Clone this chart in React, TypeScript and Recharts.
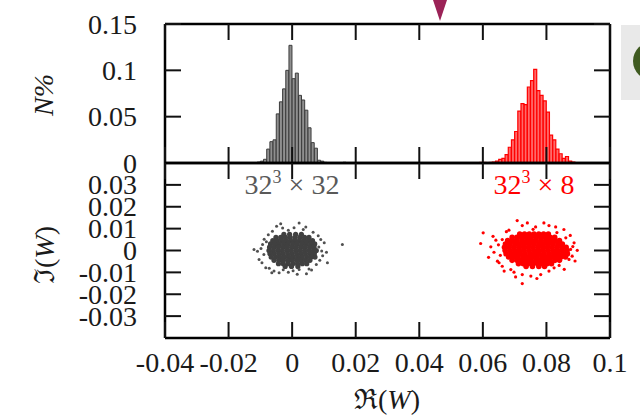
import React from "react";
import { ComposedChart, Bar, ScatterChart, Scatter, XAxis, YAxis } from "recharts";

const FONT = '"Liberation Serif", "DejaVu Serif", serif';

// shared horizontal axis
const xTicks = [-0.04, -0.02, 0, 0.02, 0.04, 0.06, 0.08, 0.1];
const xTickLabels = ["-0.04", "-0.02", "0", "0.02", "0.04", "0.06", "0.08", "0.1"];

// top panel: N%
const histTicks = [0, 0.05, 0.1, 0.15];
const histTickLabels = ["0", "0.05", "0.1", "0.15"];

// bottom panel: Im(W)
const imTicks = [-0.03, -0.02, -0.01, 0, 0.01, 0.02, 0.03];
const imTickLabels = ["-0.03", "-0.02", "-0.01", "0", "0.01", "0.02", "0.03"];

// histogram bins (centres, width 0.001)
const grayBins = [
  -0.0105, -0.0095, -0.0085, -0.0075, -0.0065, -0.0055, -0.0045, -0.0035, -0.0025, -0.0015, -0.0005,
  0.0005, 0.0015, 0.0025, 0.0035, 0.0045, 0.0055, 0.0065, 0.0075, 0.0085, 0.0095, 0.0105, 0.0165,
];
const grayHeights = [
  0.001, 0.002, 0.004, 0.015, 0.023, 0.025, 0.053, 0.066, 0.08, 0.1, 0.127,
  0.091, 0.097, 0.073, 0.068, 0.057, 0.038, 0.022, 0.016, 0.003, 0.002, 0.0007, 0.0008,
];
const redBins = [
  0.0595, 0.0605, 0.0625, 0.0635, 0.0645, 0.0655, 0.0665, 0.0675, 0.0685, 0.0695, 0.0705, 0.0715,
  0.0725, 0.0735, 0.0745, 0.0755, 0.0765, 0.0775, 0.0785, 0.0795, 0.0805, 0.0815, 0.0825, 0.0835,
  0.0845, 0.0855, 0.0865, 0.0875, 0.0885,
];
const redHeights = [
  0.0006, 0.0006, 0.0006, 0.001, 0.002, 0.004, 0.005, 0.009, 0.017, 0.025, 0.034, 0.056,
  0.064, 0.063, 0.082, 0.089, 0.101, 0.078, 0.073, 0.067, 0.055, 0.03, 0.025, 0.015,
  0.01, 0.005, 0.007, 0.002, 0.001,
];

// scatter clouds, in units of 1e-3: dense core rows [Im, Re values] and loose points [Re, Im]
const grayCoreRows: [number, number[]][] = [
  [7.4, [-2.6, -0.8, 1.1, 2.9]],
  [6.0, [-5.1, -3.6, -2.1, -0.6, 0.9, 2.4, 3.9, 5.3]],
  [4.5, [-6.1, -4.7, -3.3, -1.9, -0.5, 0.9, 2.3, 3.7, 5.1, 6.4]],
  [3.0, [-6.8, -5.4, -4.0, -2.6, -1.2, 0.2, 1.6, 3.0, 4.4, 5.8, 7.1]],
  [1.5, [-7.1, -5.7, -4.3, -2.9, -1.5, -0.1, 1.3, 2.7, 4.1, 5.5, 6.9]],
  [0.0, [-7.3, -5.9, -4.5, -3.1, -1.7, -0.3, 1.1, 2.5, 3.9, 5.3, 6.7, 7.6]],
  [-1.5, [-7.0, -5.6, -4.2, -2.8, -1.4, 0.0, 1.4, 2.8, 4.2, 5.6, 7.0]],
  [-3.0, [-6.6, -5.2, -3.8, -2.4, -1.0, 0.4, 1.8, 3.2, 4.6, 6.0, 7.2]],
  [-4.5, [-5.7, -4.2, -2.8, -1.4, 0.0, 1.4, 2.8, 4.2, 5.6]],
  [-6.0, [-4.3, -2.8, -1.3, 0.2, 1.7, 3.2, 4.6]],
  [-7.3, [-2.2, -0.2, 1.8]],
];
const grayLoose: [number, number][] = [
  [-4.9, 11.1], [-3.6, 12.2], [2.2, 12.6], [4.3, 10.8], [6.6, 8.4], [-1.2, 9.3], [-12, 0.5],
  [-10.9, -0.3], [-9.3, 2.7], [-10.4, -4.1], [-9.5, -5.6], [-8.3, -7.9], [-5.7, -9.4], [-4.1, -10.2],
  [-1.2, -9.9], [2.2, -8.7], [5.3, -8.4], [7.6, -6.4], [10.8, -0.8], [11.1, -5.6], [10.1, 3.5],
  [9, 5], [15.8, 2.7], [-7.5, 7.2], [-8.8, 5.1], [-6.2, 8.8], [0.6, 10.4], [3.5, 9.6], [8.2, 6.8],
  [9.6, -2.4], [8.7, -4.5], [6.1, -8.9], [0.3, -9.3], [-2.8, -8.8], [-7.2, -8.1], [-8.9, -1.8],
  [-9.8, 0.9], [-8.1, 4.0], [8.4, 1.6], [9.3, -0.2], [-3, 10.3], [1.6, -10.8], [4.5, -10.6], [-6.4, -10.2],
];
const redCoreRows: [number, number[]][] = [
  [7.5, [71.6, 73.1, 74.6, 76.1, 77.6, 79.1, 80.6]],
  [6.0, [69.2, 70.7, 72.2, 73.7, 75.2, 76.7, 78.2, 79.7, 81.2, 82.6]],
  [4.5, [67.8, 69.3, 70.8, 72.3, 73.8, 75.3, 76.8, 78.3, 79.8, 81.3, 82.8, 84.1]],
  [3.0, [67.1, 68.6, 70.1, 71.6, 73.1, 74.6, 76.1, 77.6, 79.1, 80.6, 82.1, 83.6, 85.0]],
  [1.5, [66.8, 68.3, 69.8, 71.3, 72.8, 74.3, 75.8, 77.3, 78.8, 80.3, 81.8, 83.3, 84.8, 86.2]],
  [0.0, [67.0, 68.5, 70.0, 71.5, 73.0, 74.5, 76.0, 77.5, 79.0, 80.5, 82.0, 83.5, 85.0, 86.5]],
  [-1.5, [67.3, 68.8, 70.3, 71.8, 73.3, 74.8, 76.3, 77.8, 79.3, 80.8, 82.3, 83.8, 85.3, 86.6]],
  [-3.0, [68.1, 69.6, 71.1, 72.6, 74.1, 75.6, 77.1, 78.6, 80.1, 81.6, 83.1, 84.6, 86.0]],
  [-4.5, [69.2, 70.7, 72.2, 73.7, 75.2, 76.7, 78.2, 79.7, 81.2, 82.7, 84.1]],
  [-6.0, [71.2, 72.7, 74.2, 75.7, 77.2, 78.7, 80.2, 81.6]],
  [-7.3, [73.6, 75.6, 77.6, 79.4]],
];
const redLoose: [number, number][] = [
  [60.1, 8.1], [59.3, 3.2], [70.8, 13.7], [72.4, -15.1], [63.2, 6.5], [64.1, 4.7], [62.5, 1.7],
  [63.5, -0.8], [64.6, -4.9], [66.7, -9.4], [68.8, -8.7], [75.1, -11.7], [78.2, -11], [80.8, -9.4],
  [84, -6.8], [87.1, -4.1], [87.6, 0.5], [89.7, 0.1], [88.7, 3.5], [86.1, 5.8], [85.5, 9.6],
  [80.8, 11.4], [76.6, 10.8], [72.4, 11.4], [68.2, 9.3], [66.1, 5], [65.1, -5.6], [66.1, -7.2],
  [69.8, -9.9], [72.4, -11], [82.4, -7.9], [86.1, -1.8], [88.1, -2.6], [79.2, 12.6], [74, 12.6],
  [83.3, 8.2], [87.5, 6.9], [89, -4.8], [85.6, -8.6], [77, -12.8], [70.3, -12.1], [65.5, -2.2],
  [64.9, 2.6], [67.4, 8.6], [82.9, 10.8], [75.8, 9.7], [88.3, 1.8], [61.8, -3.1],
];

const histData = [...grayBins.map((x, i) => ({ x, gray: grayHeights[i], red: null as number | null })),
  ...redBins.map((x, i) => ({ x, gray: null as number | null, red: redHeights[i] }))];

const fromRows = (rows: [number, number[]][]) =>
  rows.flatMap(([y, xs]) => xs.map((x) => ({ x: x / 1000, y: y / 1000 })));
const fromPairs = (pts: [number, number][]) => pts.map(([x, y]) => ({ x: x / 1000, y: y / 1000 }));

const grayCore = fromRows(grayCoreRows);
const grayPts = fromPairs(grayLoose);
const redCore = fromRows(redCoreRows);
const redPts = fromPairs(redLoose);

const TICK = 16;

function Tick(props: any) {
  const { x, y, payload, side, labels, values } = props;
  const i = values.indexOf(payload.value);
  const label = labels ? labels[i] : null;
  let line;
  if (side === "bottom") line = <line x1={x} y1={y} x2={x} y2={y - TICK} />;
  else if (side === "top") line = <line x1={x} y1={y} x2={x} y2={y + TICK} />;
  else if (side === "left") line = <line x1={x} y1={y} x2={x + TICK} y2={y} />;
  else line = <line x1={x} y1={y} x2={x - TICK} y2={y} />;
  return (
    <g>
      <g stroke="#111" strokeWidth={2}>{line}</g>
      {label != null && side === "bottom" && (
        <text x={x} y={y + 34} textAnchor="middle" fontFamily={FONT} fontSize={28} fill="#1a1a1a">
          {label}
        </text>
      )}
      {label != null && side === "left" && (
        <text x={x - 28} y={y + 9.5} textAnchor="end" fontFamily={FONT} fontSize={28} fill="#1a1a1a">
          {label}
        </text>
      )}
    </g>
  );
}

const frameLine = { stroke: "#000", strokeWidth: 2.5 };

const dot = (r: number, fill: string) => (p: any) => <circle cx={p.cx} cy={p.cy} r={r} fill={fill} />;

const axisCommon = { tickSize: 0, tickMargin: 0, tickLine: false, interval: 0 as const, axisLine: frameLine, allowDataOverflow: true };

export default function App() {
  return (
    <div style={{ position: "relative", width: 640, height: 417, overflow: "hidden", background: "#fff" }}>
      <style>{"body{margin:0}"}</style>

      <div style={{ position: "absolute", left: 0, top: 0 }}>
        <ComposedChart
          width={640}
          height={185}
          data={histData}
          margin={{ top: 23, right: 29, bottom: 21, left: 164 }}
          barCategoryGap={0}
          barGap={0}
        >
          <XAxis xAxisId={0} dataKey="x" type="number" domain={[-0.04, 0.1]} ticks={xTicks} height={1} {...axisCommon}
            tick={(p: any) => <Tick {...p} side="bottom" values={xTicks} />} />
          <XAxis xAxisId="top" orientation="top" dataKey="x" type="number" domain={[-0.04, 0.1]} ticks={xTicks}
            height={1} {...axisCommon} tick={(p: any) => <Tick {...p} side="top" values={xTicks} />} />
          <YAxis yAxisId={0} type="number" domain={[0, 0.15]} ticks={histTicks} width={1} {...axisCommon}
            tick={(p: any) => <Tick {...p} side="left" values={histTicks} labels={histTickLabels} />} />
          <YAxis yAxisId="r" orientation="right" type="number" domain={[0, 0.15]} ticks={histTicks} width={1}
            {...axisCommon} tick={(p: any) => <Tick {...p} side="right" values={histTicks} />} />
          <Bar dataKey="gray" stackId="h" fill="#8f8f8f" stroke="#3c3c3c" strokeWidth={1} isAnimationActive={false} />
          <Bar dataKey="red" stackId="h" fill="#ff6a6a" stroke="#ff0000" strokeWidth={1.2} isAnimationActive={false} />
        </ComposedChart>
      </div>

      <div style={{ position: "absolute", left: 0, top: 140 }}>
        <ScatterChart width={640} height={277} margin={{ top: 22, right: 29, bottom: 78, left: 164 }}>
          <XAxis xAxisId={0} dataKey="x" type="number" domain={[-0.04, 0.1]} ticks={xTicks} height={1} {...axisCommon}
            tick={(p: any) => <Tick {...p} side="bottom" values={xTicks} labels={xTickLabels} />} />
          <XAxis xAxisId="top" orientation="top" dataKey="x" type="number" domain={[-0.04, 0.1]} ticks={xTicks}
            height={1} {...axisCommon} tick={(p: any) => <Tick {...p} side="top" values={xTicks} />} />
          <YAxis yAxisId={0} dataKey="y" type="number" domain={[-0.04, 0.04]} ticks={imTicks} width={1} {...axisCommon}
            tick={(p: any) => <Tick {...p} side="left" values={imTicks} labels={imTickLabels} />} />
          <YAxis yAxisId="r" orientation="right" dataKey="y" type="number" domain={[-0.04, 0.04]} ticks={imTicks}
            width={1} {...axisCommon} tick={(p: any) => <Tick {...p} side="right" values={imTicks} />} />
          <Scatter data={grayCore} shape={dot(2.6, "#404040")} isAnimationActive={false} />
          <Scatter data={grayPts} shape={dot(1.5, "#505050")} isAnimationActive={false} />
          <Scatter data={redCore} shape={dot(2.8, "#ff0000")} isAnimationActive={false} />
          <Scatter data={redPts} shape={dot(1.6, "#ff0000")} isAnimationActive={false} />
        </ScatterChart>
      </div>

      <svg width={640} height={417} style={{ position: "absolute", left: 0, top: 0, pointerEvents: "none" }}>
        <g fontFamily={FONT} fontSize={28}>
          <text x={53} y={95} textAnchor="middle" transform="rotate(-90 53 95)" fill="#1a1a1a" fontStyle="italic">
            N%
          </text>
          <text x={54} y={255} textAnchor="middle" transform="rotate(-90 54 255)" fill="#1a1a1a">
            ℑ(<tspan fontStyle="italic">W</tspan>)
          </text>
          <text x={387} y={409} textAnchor="middle" fill="#1a1a1a">
            ℜ(<tspan fontStyle="italic">W</tspan>)
          </text>
          <text x={292} y={194} textAnchor="middle" fill="#595959">
            32<tspan fontSize={18} dy={-11}>3</tspan><tspan dy={11}> × 32</tspan>
          </text>
          <text x={534} y={194} textAnchor="middle" fill="#ff0000">
            32<tspan fontSize={18} dy={-11}>3</tspan><tspan dy={11}> × 8</tspan>
          </text>
        </g>
        <path d="M433 0 L447 0 L440 21 Z" fill="#9b2257" />
        <rect x={621} y={25} width={19} height={75} fill="#e9e9e9" />
        <circle cx={652} cy={61} r={19} fill="#3f5a20" />
      </svg>
    </div>
  );
}
